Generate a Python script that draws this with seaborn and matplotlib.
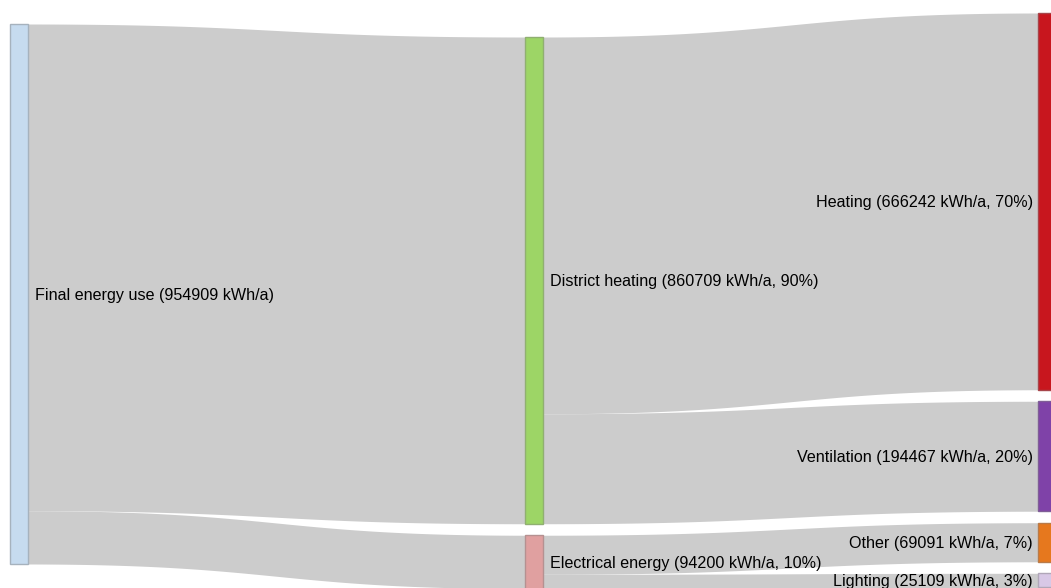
import numpy as np
import matplotlib
matplotlib.use("Agg")
import matplotlib.pyplot as plt
import matplotlib.colors as mcolors
import seaborn as sns

# Energy flows (kWh/a)
node_names = ["Final energy use", "District heating", "Electrical energy",
              "Heating", "Ventilation", "Other", "Lighting"]
node_values = [954909, 860709, 94200, 666242, 194467, 69091, 25109]
node_columns = [0, 1, 1, 2, 2, 2, 2]
node_colors = ["#c6dbef", "#9dd566", "#e0a0a0", "#c8161e", "#7f42a8", "#e6781e", "#d8c8e6"]

link_source = [0, 0, 1, 1, 2, 2]
link_target = [1, 2, 3, 4, 5, 6]
link_value = [860709, 94200, 666242, 194467, 69091, 25109]

total = node_values[0]

sns.set_theme(style="white")
plt.rcParams['font.family'] = ['Liberation Sans', 'DejaVu Sans']

fig = plt.figure(figsize=(10.51, 5.88), dpi=100)
ax = fig.add_axes([0, 0, 1, 1])
ax.set_xlim(0, 1051)
ax.set_ylim(588, 0)
ax.axis("off")

# layout (pixels)
scale = 540 / total
col_x = [10, 525, 1038]
col_top = [24, 37, 13]
node_w = 18
pad = 11.5

node_y0 = []
node_y1 = []
col_cursor = dict(enumerate(col_top))
for i, v in enumerate(node_values):
    c = node_columns[i]
    y0 = col_cursor[c]
    y1 = y0 + v * scale
    node_y0.append(y0)
    node_y1.append(y1)
    col_cursor[c] = y1 + pad

# links as bezier bands
out_cursor = list(node_y0)
in_cursor = list(node_y0)
t = np.linspace(0, 1, 200)
for s, d, v in zip(link_source, link_target, link_value):
    h = v * scale
    x0 = col_x[node_columns[s]] + node_w
    x1 = col_x[node_columns[d]]
    xm = (x0 + x1) / 2
    xs = (1 - t) ** 3 * x0 + 3 * (1 - t) ** 2 * t * xm + 3 * (1 - t) * t ** 2 * xm + t ** 3 * x1
    ys0, yt0 = out_cursor[s], in_cursor[d]
    ease = 3 * t ** 2 - 2 * t ** 3
    top = ys0 + (yt0 - ys0) * ease
    ax.fill_between(xs, top, top + h, color="#cccccc", lw=0, zorder=1)
    out_cursor[s] += h
    in_cursor[d] += h

# nodes and labels
for i, name in enumerate(node_names):
    c = node_columns[i]
    x = col_x[c]
    y0, y1 = node_y0[i], node_y1[i]
    rgb = np.array(mcolors.to_rgb(node_colors[i]))
    edge = rgb * 0.55 + 0.45 * 0.5
    ax.add_patch(plt.Rectangle((x, y0), node_w, y1 - y0, facecolor=node_colors[i],
                               edgecolor=edge, lw=1, zorder=3))
    v = node_values[i]
    if i == 0:
        label = f"{name} ({v} kWh/a)"
    else:
        label = f"{name} ({v} kWh/a, {round(100 * v / total)}%)"
    ym = (y0 + y1) / 2 + 1.5
    if c < 2:
        ax.text(x + node_w + 7, ym, label, ha="left", va="center", fontsize=11.6,
                color="#000000", zorder=4)
    else:
        ax.text(x - 5, ym, label, ha="right", va="center", fontsize=11.6,
                color="#000000", zorder=4)

fig.savefig("out.png", dpi=100)
